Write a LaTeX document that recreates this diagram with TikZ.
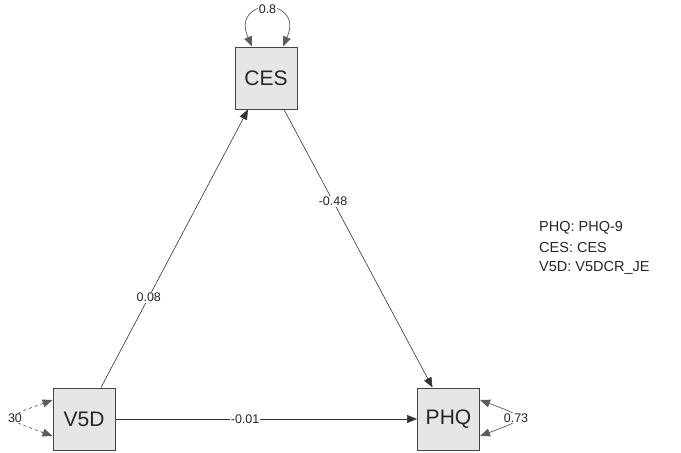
\documentclass[tikz,border=0pt]{standalone}
\usepackage{fontspec}
\setmainfont{Liberation Sans}
\usetikzlibrary{arrows.meta}
\definecolor{boxfill}{HTML}{E6E6E6}
\definecolor{boxline}{HTML}{444444}
\definecolor{edgec}{HTML}{333333}
\begin{document}
\begin{tikzpicture}[x=1pt,y=-1pt,
  var/.style={draw=boxline, line width=1pt, fill=boxfill, minimum width=62pt, minimum height=62pt, inner sep=0pt, font=\fontsize{21}{21}\selectfont, text=black!85},
  path/.style={draw=edgec, line width=0.6pt, -{Triangle[length=10pt,width=8pt]}},
  loop/.style={draw=edgec!80, line width=0.7pt, {Triangle[length=10pt,width=8pt]}-{Triangle[length=10pt,width=8pt]}},
  lab/.style={fill=white, inner sep=1pt, font=\fontsize{12.5}{12.5}\selectfont, text=black!85},
  leg/.style={font=\fontsize{14.5}{14.5}\selectfont, text=black!85, anchor=west, inner sep=0pt}]
\useasboundingbox (0,0) rectangle (681,453);
\node[var] (CES) at (266,78) {CES};
\node[var] (V5D) at (84,419) {V5D};
\node[var] (PHQ) at (448.5,419) {PHQ};
% paths
\draw[path] ([xshift=17pt]V5D.north) -- node[lab, pos=0.325] {0.08} ([xshift=-18pt]CES.south);
\draw[path] ([xshift=18pt]CES.south) -- node[lab, pos=0.33] {-0.48} ([xshift=-16pt]PHQ.north);
\draw[path] (V5D.east) -- node[lab, pos=0.43] {-0.01} (PHQ.west);
% variances
\draw[loop] ([xshift=-14pt]CES.north) .. controls +(-22,-50) and +(22,-50) .. node[lab, pos=0.5] {0.8} ([xshift=17pt]CES.north);
\draw[loop] ([yshift=-17pt]PHQ.east) .. controls +(48,-18) and +(48,18) .. node[lab, pos=0.5] {0.73} ([yshift=19pt]PHQ.east);
\draw[loop, dashed] ([yshift=-17pt]V5D.west) .. controls +(-50,-18) and +(-50,18) .. node[lab, pos=0.5] {30} ([yshift=19pt]V5D.west);
% legend
\node[leg] (l1) at (539,228) {PHQ: PHQ-9};
\node[leg] (l2) at (539,248) {CES: CES};
\node[leg] (l3) at (539,268) {V5D: V5DCR\_JE};
\end{tikzpicture}
\end{document}
